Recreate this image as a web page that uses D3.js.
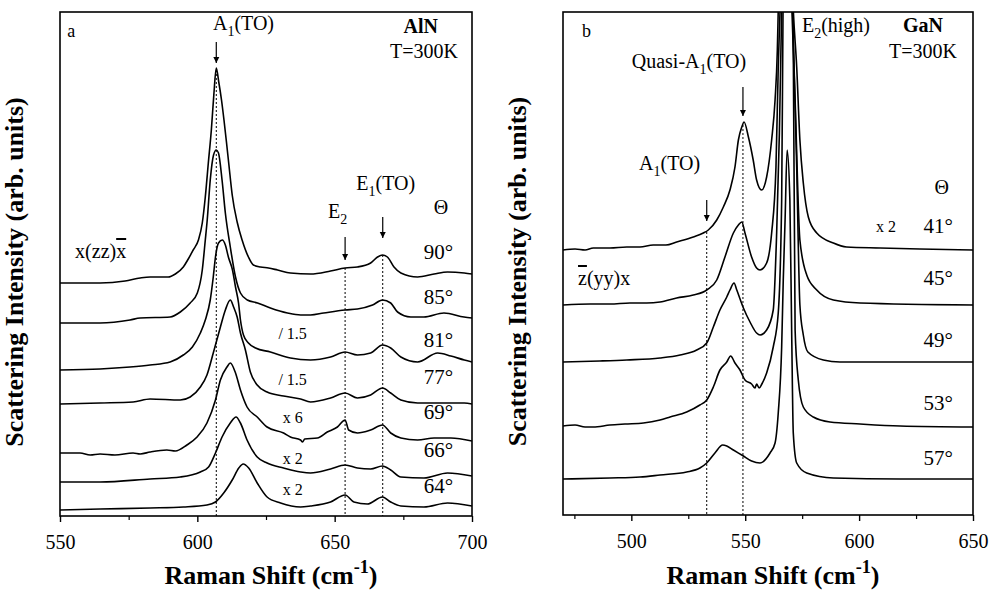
<!DOCTYPE html>
<html>
<head>
<meta charset="utf-8">
<script src="https://cdn.jsdelivr.net/npm/d3@7"></script>
<style>
  body { margin: 0; background: #fff; }
  svg { display: block; font-family: "Liberation Serif", "Times New Roman", Times, "DejaVu Serif", serif; }
</style>
</head>
<body>
<svg id="chart" width="989" height="591"></svg>
<script>
// Two Raman panels: (a) AlN, x(zz)x-bar, angle series 90..64 deg;
// (b) GaN, z-bar(yy)x, angle series 41..57 deg. Each spectrum is
// [Raman shift (cm-1), intensity (arb. units, already offset)].

const d3 = window.d3;
const SERIF = '"Liberation Serif", "Times New Roman", Times, "DejaVu Serif", serif';

// ---- panel a: AlN ----
const ALN_90 = [[550,23.3],[564.6,23.3],[573.7,23.5],[579.2,23.8],[582.8,23.9],[589.4,23.9],[592,24.2],[594.9,24.9],[596.7,25.7],[598.5,26.6],[600.4,27.6],[601.8,29.3],[602.9,31.9],[604,35.3],[605.1,38.6],[606,42.1],[606.9,44.8],[607.8,43.4],[608.8,41.6],[609.7,39.6],[610.6,37.4],[611.5,35.1],[612.7,32.1],[614.5,29.4],[616.3,27.6],[618.6,25.9],[620.4,25.1],[623,24.9],[625.9,24.8],[629.2,24.6],[633.9,24.3],[641.2,24.2],[648.5,24.5],[653.8,24.8],[658.3,24.9],[663.1,25.3],[665.6,25.9],[667.4,26.1],[669.2,25.9],[671.6,24.9],[674.1,24.3],[680.2,23.9],[686.2,24.2],[691.1,24.4],[697.2,24.3],[700,24.2]];
const ALN_85 = [[550,19.3],[564.6,19.3],[575.5,19.6],[579.2,19.8],[590.1,19.9],[593.8,20.4],[597.4,21.3],[600,22.3],[601.8,24.6],[602.9,27.6],[603.6,29.6],[604.7,33.6],[605.9,36.1],[606.9,36.6],[607.7,36.3],[609,33.6],[610.2,30.3],[612,26.9],[613.9,23.9],[615.7,22.3],[618.2,21.6],[621.9,21.3],[626.6,20.8],[632.8,20.3],[637.6,20.1],[641.2,20.1],[646,20.3],[653.8,20.6],[658.3,20.7],[663.8,21.1],[667.4,21.6],[670.4,21.3],[672.9,20.4],[677.7,19.9],[682.5,19.9],[689.8,20.3],[697.1,19.9],[700,19.8]];
const ALN_81 = [[550,14.6],[564.6,14.7],[575.5,14.9],[582.8,15.1],[590.1,15.4],[594.9,16.1],[598.2,16.9],[601.1,18.3],[602.9,19.6],[604.7,21.6],[605.8,23.9],[606.6,25.9],[607.7,27.3],[609.1,27.6],[610.2,27.1],[611.3,25.9],[612.8,24.6],[613.9,22.9],[615,21.3],[615.7,19.6],[616.8,18.1],[618.6,17.3],[621.2,16.8],[626.6,16.4],[633.9,15.8],[641.2,15.6],[648.5,15.9],[653.8,16.4],[658.3,16.1],[663.1,16.3],[667.4,17.1],[670.4,16.8],[674.1,15.9],[680.2,15.4],[687.5,16.3],[692.3,16],[697.2,15.6],[700,15.4]];
const ALN_77 = [[550,11.2],[564.6,11.3],[576.6,11.4],[582.8,11.7],[593.8,11.6],[597.4,11.9],[601.1,12.9],[603.5,14.1],[605.8,16.3],[608.4,18.9],[610.2,20.6],[612,21.6],[613.2,20.9],[614.5,19.9],[615.7,18.3],[617.5,16.6],[619.3,14.4],[621.8,13.1],[625.4,12.4],[631.4,12],[637.6,11.7],[641.2,11.4],[648.5,11.8],[653.8,12.3],[658.3,11.8],[663.1,12.1],[667.4,12.8],[670.4,12.3],[674.1,11.6],[680.2,11.3],[688.7,11.3],[697.2,11.3],[700,11.2]];
const ALN_69 = [[550,6.3],[557.3,6.3],[561,6.1],[564.6,6.2],[570,6.1],[576.6,6.3],[579.2,6.2],[582.8,6.4],[588.9,6.6],[592,6.5],[596.2,7.1],[599.9,7.9],[603.5,9.3],[606.6,11.6],[608.4,13.6],[610.8,14.9],[612,15.3],[613.9,14.3],[615.7,12.6],[618.1,10.9],[621.8,9.9],[625.4,8.9],[631.4,8.3],[633.9,7.9],[637.6,7.6],[638.3,7.4],[639.1,7.7],[643.7,7.8],[647.3,8.4],[651,8.9],[653.8,9.6],[655.1,8.6],[658.3,8.3],[663.1,8.6],[667.4,9.1],[670.4,8.3],[674.1,7.8],[680.2,7.6],[686.2,7.8],[692.3,7.8],[700,7.5]];
const ALN_66 = [[550,3.4],[564.6,3.4],[582.8,3.7],[593.8,3.9],[601.1,4.4],[604.1,4.9],[606.6,6.3],[609,7.9],[612,9.3],[614.1,9.9],[615.7,9.3],[618.1,7.6],[621.8,5.9],[625.4,5.3],[631.4,4.8],[637.6,4.4],[641.2,4.3],[648.5,4.7],[653.8,5.1],[658.3,4.8],[663.1,4.7],[667.4,5],[670.4,4.6],[674.1,3.9],[682.5,3.8],[691.1,4.3],[700,4]];
const ALN_64 = [[550,0.6],[564.6,0.7],[582.8,0.8],[594.9,0.9],[603.5,1.1],[606.6,1.4],[609.6,2.3],[612.7,3.6],[615.1,4.8],[616.7,5.2],[618.7,4.8],[621.8,3.3],[625.4,1.9],[630.3,1.3],[637.6,0.9],[641.2,1],[648.5,1.4],[653.8,2.1],[657,1.4],[661.9,1.2],[667.4,1.9],[670.4,1.4],[674.1,1],[682.5,0.9],[691.1,1.3],[700,1]];
const ALN_SPECTRA = [ALN_90, ALN_85, ALN_81, ALN_77, ALN_69, ALN_66, ALN_64];
const ALN_ANGLES = ['90°', '85°', '81°', '77°', '69°', '66°', '64°'];
const ALN_ANGLE_Y = [25.7, 21.2, 16.9, 13.2, 9.7, 5.9, 2.3];
const ALN_FACTORS = ['/ 1.5', '/ 1.5', 'x 6', 'x 2', 'x 2'];
const ALN_FACTOR_Y = [17.7, 13.1, 9.3, 5.2, 2.1];
// mode positions (cm-1) and where their dotted guide starts (intensity)
const ALN_MODES = [606.9, 653.8, 667.5];
const ALN_MODE_TOP = [44.6, 24.8, 26.1];
const ALN_TICKS = [550, 600, 650, 700];
const ALN_MINOR = [575, 625, 675];

// ---- panel b: GaN ----
const GAN_41 = [[470,26.5],[475.3,26.6],[479.7,26.5],[483.3,26.7],[490.6,26.7],[498,26.8],[503.8,26.8],[509.6,27],[515.2,27],[519.9,27.3],[527.2,27.8],[531.6,28.2],[533.8,28.5],[537.5,29.5],[540.4,30.8],[543.3,32.5],[545.5,34.8],[547,37.5],[548.5,38.8],[549.5,39.3],[551.4,37.8],[553.5,35.5],[555,33.5],[557.2,32.5],[559.4,33.8],[561.6,37.5],[563.1,41.5],[564.1,46.5],[564.5,50.5],[568.3,71.5],[571.1,50.5],[572.6,44.8],[574,37.5],[575.5,33.2],[577.7,29.8],[581.4,28.2],[588.7,27.2],[594.5,26.8],[609.2,26.7],[626.7,26.6],[650,26.5]];
const GAN_45 = [[470,21],[481.9,21.1],[490.6,21.1],[499.4,21.2],[506.7,21.2],[512.6,21.3],[519.9,21.7],[527.2,22],[533.1,22.5],[537.5,23.5],[541.1,25.8],[544.8,28.2],[547,29],[548.5,29.3],[549.9,28.2],[552.8,25.8],[555,24.7],[556.5,24.5],[559.4,25.2],[561.6,28.2],[563.5,34.8],[564.5,44.8],[565.3,50.5],[568.3,71.5],[570.5,50.5],[571.9,41.5],[574,27.5],[577,24],[581.4,22.5],[588.7,21.5],[600.4,21.2],[650,21]];
const GAN_49 = [[470,15.3],[486.2,15.4],[498,15.5],[512.6,15.7],[521.4,16],[528.7,16.5],[533.1,17.2],[536,18.8],[538.9,20.5],[541.9,21.8],[543.3,22.5],[545.1,23.2],[546.3,22.5],[549.2,20.7],[552.1,19.3],[555,18.2],[556.5,18],[559.4,18.5],[562.3,20.5],[563.8,28.2],[565,38.2],[566,50.5],[568.3,71.5],[570.8,50.5],[572.6,34.8],[574,21],[575.5,18],[577.5,16.3],[584.3,15.5],[591.6,15.3],[650,15.3]];
const GAN_53 = [[470,8.9],[475.3,9],[479.7,8.8],[483.3,8.8],[490.6,9],[497.2,9.1],[505.3,9.2],[512.6,9.5],[517,9.8],[524.3,10.3],[530.1,11],[533.1,11.5],[536,12.8],[538.9,14.5],[541.9,15.3],[543.6,15.9],[545.5,15.2],[547.7,14.5],[549.9,13.5],[552.8,13.1],[554.3,12.7],[555,13.1],[556.1,12.7],[557.3,13.1],[559.4,14.2],[562.3,16.8],[564.5,20.2],[566,31.5],[566.6,50.5],[568.3,71.5],[571,50.5],[571.9,18.5],[573.3,13.5],[575.5,10.8],[579.9,9.8],[587.2,9.3],[600.4,9.1],[618,8.9],[650,8.8]];
const GAN_57 = [[470,3.6],[490.6,3.7],[503.8,3.8],[512.6,4],[524.3,4.3],[530.1,4.7],[533.1,5.2],[536.7,6.2],[540.1,7],[541.9,6.9],[544.8,6.5],[549.2,5.9],[552.8,5.4],[556.5,5.2],[560.9,6.2],[563.1,7.2],[564.5,10.2],[566,16.8],[566.7,23.5],[567.5,29.5],[568.4,36.5],[569.6,31.5],[570.4,18.2],[571.1,8.2],[572.6,5.2],[577,4.2],[588.7,3.7],[618,3.6],[650,3.6]];
const GAN_SPECTRA = [GAN_41, GAN_45, GAN_49, GAN_53, GAN_57];
const GAN_ANGLES = ['41°', '45°', '49°', '53°', '57°'];
const GAN_ANGLE_Y = [28.2, 23.0, 16.8, 10.5, 5.0];
const GAN_MODES = [533.1, 549.0];
const GAN_MODE_TOP = [28.3, 39.0];
const GAN_TICKS = [500, 550, 600, 650];
const GAN_MINOR = [475, 525, 575, 625];

const PANELS = [
  {
    key: 'a', box: { left: 60, right: 472, top: 12, bottom: 516 },
    xDomain: [550, 700], yDomain: [0, 50.4],
    spectra: ALN_SPECTRA, ticks: ALN_TICKS, minor: ALN_MINOR,
    modes: ALN_MODES, modeTop: ALN_MODE_TOP,
    // arrows: [x, from, to] in data units
    arrows: [[606.9, 47.4, 45.3], [653.8, 27.9, 25.6], [667.5, 29.9, 27.8]],
    angles: ALN_ANGLES, angleY: ALN_ANGLE_Y, angleX: 693.1,
    factors: ALN_FACTORS, factorY: ALN_FACTOR_Y, factorX: 634.7,
    notes: [
      { x: 552.6, y: 47.9, text: 'a', size: 18, anchor: 'start' },
      { x: 616.8, y: 48.6, text: 'A_{1}(TO)', size: 20, anchor: 'middle' },
      { x: 687.6, y: 48.3, text: 'AlN', size: 20, anchor: 'end', bold: true },
      { x: 694.9, y: 45.8, text: 'T=300K', size: 20, anchor: 'end' },
      { x: 668.6, y: 32.6, text: 'E_{1}(TO)', size: 20, anchor: 'middle' },
      { x: 651.1, y: 29.8, text: 'E_{2}', size: 20, anchor: 'middle' },
      { x: 688.7, y: 30.2, text: 'Θ', size: 20, anchor: 'middle' },
      { x: 555.5, y: 25.8, text: 'x(zz)~{x}', size: 20, anchor: 'start' },
    ],
  },
  {
    key: 'b', box: { left: 563, right: 973, top: 12, bottom: 515 },
    xDomain: [470, 650], yDomain: [0, 50.3],
    spectra: GAN_SPECTRA, ticks: GAN_TICKS, minor: GAN_MINOR,
    modes: GAN_MODES, modeTop: GAN_MODE_TOP,
    arrows: [[533.1, 31.5, 29.4], [549.0, 42.8, 39.9]],
    angles: GAN_ANGLES, angleY: GAN_ANGLE_Y, angleX: 641.2,
    factors: ['x 2'], factorY: [28.3], factorX: 611.8,
    notes: [
      { x: 478.3, y: 47.8, text: 'b', size: 18, anchor: 'start' },
      { x: 525.3, y: 44.7, text: 'Quasi-A_{1}(TO)', size: 20, anchor: 'middle' },
      { x: 516.8, y: 34.5, text: 'A_{1}(TO)', size: 20, anchor: 'middle' },
      { x: 574.9, y: 48.3, text: 'E_{2}(high)', size: 20, anchor: 'start' },
      { x: 636.8, y: 48.3, text: 'GaN', size: 20, anchor: 'end', bold: true },
      { x: 643.0, y: 45.7, text: 'T=300K', size: 20, anchor: 'end' },
      { x: 636.3, y: 32.1, text: 'Θ', size: 20, anchor: 'middle' },
      { x: 476.6, y: 23.0, text: '~{z}(yy)x', size: 20, anchor: 'start' },
    ],
  },
];

const svg = d3.select('#chart');

svg.append('defs').append('marker')
  .attr('id', 'arrow')
  .attr('markerUnits', 'userSpaceOnUse')
  .attr('viewBox', '0 0 10 10')
  .attr('refX', 10).attr('refY', 5)
  .attr('markerWidth', 6).attr('markerHeight', 9)
  .attr('orient', 'auto')
  .append('path').attr('d', 'M0,0 L10,5 L0,10 Z').attr('fill', '#000');

// tiny markup: _{..} subscript, ^{..} superscript, ~{..} overbar
function rich(sel, str, size) {
  let cur = 0;
  str.split(/(_\{[^}]*\}|\^\{[^}]*\}|~\{[^}]*\})/).filter(Boolean).forEach((p) => {
    const kind = p[0] === '_' && p[1] === '{' ? 'sub' : p[0] === '^' ? 'sup' : p[0] === '~' ? 'bar' : 'plain';
    const body = kind === 'plain' ? p : p.slice(2, -1);
    const target = kind === 'sub' ? size * 0.32 : kind === 'sup' ? -size * 0.42 : 0;
    const t = sel.append('tspan').attr('dy', target - cur).text(body);
    cur = target;
    if (kind === 'sub' || kind === 'sup') t.attr('font-size', size * 0.7);
    if (kind === 'bar') t.style('text-decoration', 'overline');
  });
}

PANELS.forEach((p) => renderPanel(p));

function renderPanel(p) {
  const { left, right, top, bottom } = p.box;
  const x = d3.scaleLinear().domain(p.xDomain).range([left, right]);
  const y = d3.scaleLinear().domain(p.yDomain).range([bottom, top]);
  const g = svg.append('g').attr('class', `panel-${p.key}`).attr('font-family', SERIF);

  g.append('clipPath').attr('id', `clip-${p.key}`)
    .append('rect').attr('x', left).attr('y', top)
    .attr('width', right - left).attr('height', bottom - top);

  // dotted mode guides
  p.modes.forEach((m, i) => {
    g.append('line')
      .attr('x1', x(m)).attr('x2', x(m))
      .attr('y1', y(p.modeTop[i])).attr('y2', y(0))
      .attr('stroke', '#000').attr('stroke-width', 1)
      .attr('stroke-dasharray', '2,2');
  });

  const line = d3.line().x((d) => x(d[0])).y((d) => y(d[1])).curve(d3.curveMonotoneX);
  g.append('g').attr('clip-path', `url(#clip-${p.key})`)
    .selectAll('path').data(p.spectra).join('path')
    .attr('fill', 'none').attr('stroke', '#000')
    .attr('stroke-width', 1.6).attr('stroke-linejoin', 'round')
    .attr('d', line);

  // frame
  g.append('rect').attr('x', left).attr('y', top)
    .attr('width', right - left).attr('height', bottom - top)
    .attr('fill', 'none').attr('stroke', '#000').attr('stroke-width', 1.6);

  const major = g.append('g').attr('transform', `translate(0,${bottom})`)
    .call(d3.axisBottom(x).tickValues(p.ticks).tickSize(6).tickSizeOuter(0).tickPadding(13).tickFormat(d3.format('d')));
  major.attr('font-family', SERIF).attr('font-size', 20);
  major.select('.domain').remove();
  major.selectAll('line').attr('stroke-width', 1.4);
  major.selectAll('text').attr('fill', '#000');

  const minor = g.append('g').attr('transform', `translate(0,${bottom})`)
    .call(d3.axisBottom(x).tickValues(p.minor).tickSize(4).tickSizeOuter(0).tickFormat(''));
  minor.select('.domain').remove();
  minor.selectAll('line').attr('stroke-width', 1.2);

  p.arrows.forEach(([ax, y0, y1]) => {
    g.append('line')
      .attr('x1', x(ax)).attr('x2', x(ax))
      .attr('y1', y(y0)).attr('y2', y(y1))
      .attr('stroke', '#000').attr('stroke-width', 1.2)
      .attr('marker-end', 'url(#arrow)');
  });

  p.notes.forEach((n) => {
    const t = g.append('text')
      .attr('x', x(n.x)).attr('y', y(n.y))
      .attr('font-size', n.size).attr('text-anchor', n.anchor)
      .attr('font-weight', n.bold ? 'bold' : null);
    rich(t, n.text, n.size);
  });

  p.angles.forEach((a, i) => {
    g.append('text').attr('x', x(p.angleX)).attr('y', y(p.angleY[i]))
      .attr('font-size', 21).attr('text-anchor', 'end').text(a);
  });

  p.factors.forEach((f, i) => {
    g.append('text').attr('x', x(p.factorX)).attr('y', y(p.factorY[i]))
      .attr('font-size', 16).attr('text-anchor', 'middle').text(f);
  });

  const cx = (left + right) / 2;
  const xl = g.append('text').attr('x', cx + 5).attr('y', 584)
    .attr('font-size', 26).attr('font-weight', 'bold').attr('text-anchor', 'middle');
  rich(xl, 'Raman Shift (cm^{-1})', 26);

  g.append('text')
    .attr('transform', `translate(${left - 37},${(top + bottom) / 2 + 8}) rotate(-90)`)
    .attr('font-size', 26).attr('font-weight', 'bold').attr('text-anchor', 'middle')
    .text('Scattering Intensity (arb. units)');
}
</script>
</body>
</html>
